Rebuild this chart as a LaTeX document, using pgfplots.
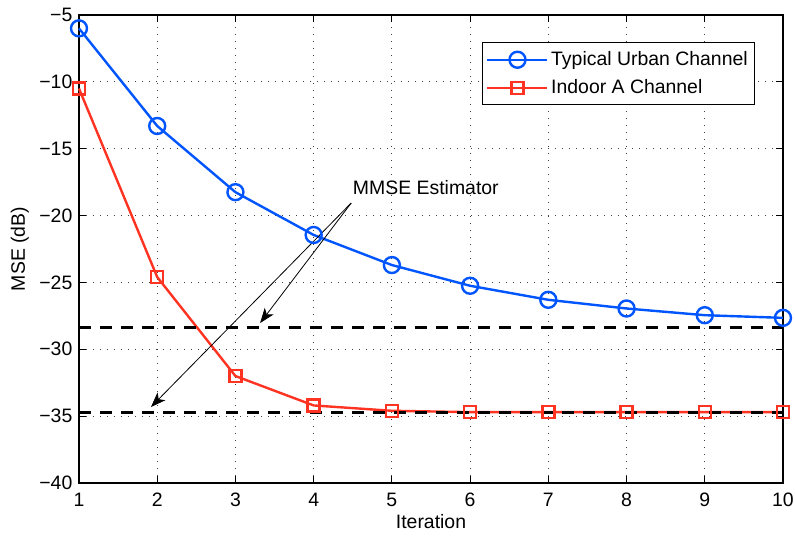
\documentclass[border=0pt]{standalone}
\usepackage{pgfplots}
\pgfplotsset{compat=1.18}
\usepackage{fontspec}
\setmainfont{Liberation Sans}
\usetikzlibrary{arrows.meta}
\definecolor{mblue}{RGB}{0,85,255}
\definecolor{mred}{RGB}{255,51,34}
\begin{document}
\fontsize{19.5}{23}\selectfont
\begin{tikzpicture}
\useasboundingbox (-79bp,-53bp) rectangle (716bp,483bp);
\begin{axis}[
  at={(0,0)}, anchor=south west,
  scale only axis, width=704bp, height=468bp,
  xmin=1, xmax=10, ymin=-40, ymax=-5,
  xtick={1,2,3,4,5,6,7,8,9,10},
  ytick={-40,-35,-30,-25,-20,-15,-10,-5},
  yticklabels={−40,−35,−30,−25,−20,−15,−10,−5},
  /pgf/number format/assume math mode=true,
  xticklabel style={yshift=-3bp},
  tick align=inside,
  major tick length=7bp,
  axis line style={line width=1.2bp},
  every tick/.style={black, line width=1bp},
  grid=major,
  major grid style={black!75, line width=0.8bp, dash pattern=on 1bp off 6bp},
  clip=false,
  xlabel={Iteration},
  ylabel={MSE (dB)},
  every axis x label/.style={at={(axis description cs:0.5,-0.083)}, anchor=center},
  every axis y label/.style={at={(axis description cs:-0.084,0.5)}, rotate=90, anchor=center},
  legend cell align=left,
  legend style={at={(axis description cs:0.960,0.942)}, anchor=north east,
    draw=black, line width=1.2bp, inner xsep=4bp, inner ysep=6bp,
    nodes={inner sep=2.5bp}, row sep=6bp},
  legend image code/.code={\draw[mark repeat=2,mark phase=2,#1] plot coordinates {(0bp,0bp) (30bp,0bp) (60bp,0bp)};},
]
\addplot[mblue, line width=2.4bp, mark=o, mark size=8bp, mark options={solid, line width=2.4bp}]
  coordinates {(1,-6.0) (2,-13.3) (3,-18.25) (4,-21.45) (5,-23.7) (6,-25.25) (7,-26.3) (8,-26.95) (9,-27.45) (10,-27.65)};
\addlegendentry{Typical Urban Channel}
\addplot[mred, line width=2.4bp, mark=square, mark size=6bp, mark options={solid, line width=2.4bp}]
  coordinates {(1,-10.5) (2,-24.6) (3,-32.0) (4,-34.2) (5,-34.6) (6,-34.7) (7,-34.7) (8,-34.7) (9,-34.7) (10,-34.7)};
\addlegendentry{Indoor A Channel}
\addplot[black, line width=2.8bp, dash pattern=on 12bp off 9bp, forget plot]
  coordinates {(1,-28.4) (10,-28.4)};
\addplot[black, line width=2.8bp, dash pattern=on 12bp off 9bp, forget plot]
  coordinates {(1,-34.75) (10,-34.75)};
\draw[black, line width=0.8bp, -{Stealth[length=15bp,width=11bp,inset=4bp]}] (axis cs:4.48,-19.06) -- (axis cs:3.315,-28.04);
\draw[black, line width=0.8bp, -{Stealth[length=15bp,width=11bp,inset=4bp]}] (axis cs:4.48,-19.06) -- (axis cs:1.92,-34.32);
\node[anchor=west, inner sep=0pt] at (axis cs:4.50,-17.94) {MMSE Estimator};
\end{axis}
\end{tikzpicture}
\end{document}
